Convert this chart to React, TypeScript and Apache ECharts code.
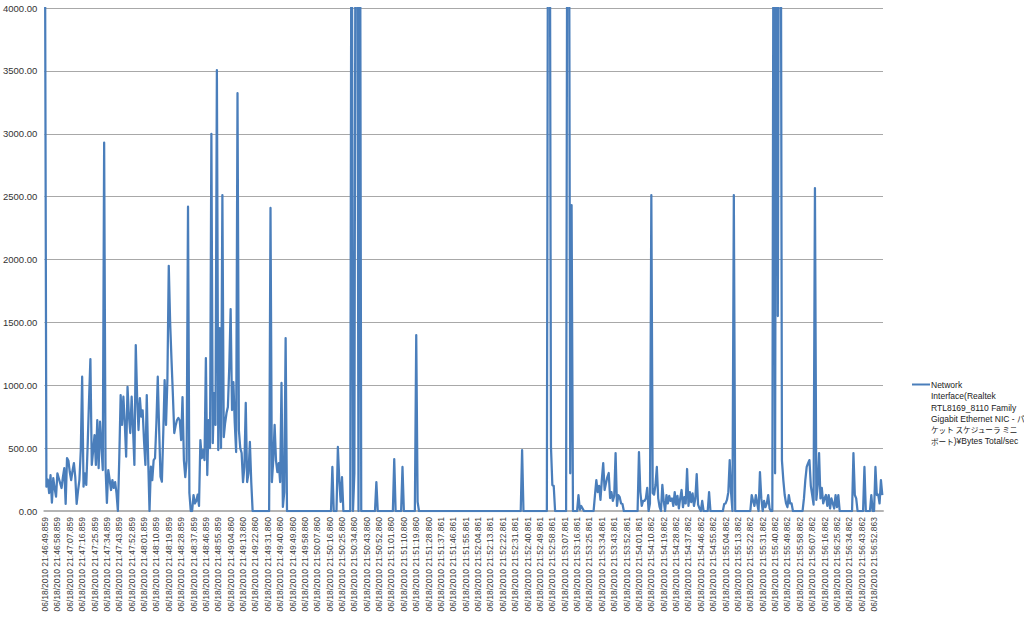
import React, { useEffect, useRef } from "react";
import * as echarts from "echarts";

const SERIES_NAME =
  "Network Interface(Realtek RTL8169_8110 Family Gigabit Ethernet NIC - パケット スケジューラ ミニポート)¥Bytes Total/sec";
// legend text lines as wrapped in the picture; {j|...} marks Japanese runs
const LEGEND_LINES = [
  "Network",
  "Interface(Realtek",
  "RTL8169_8110 Family",
  "Gigabit Ethernet NIC - {j|パ}",
  "{j|ケット スケジューラ ミニ}",
  "{j|ポート})¥Bytes Total/sec",
];

// Bytes Total/sec, one sample per second
const BYTES_TOTAL_SEC = [
  4500, 193, 250, 143, 286, 66, 262, 180, 114, 300,
  260, 222, 183, 270, 341, 56, 421, 400, 310, 246,
  320, 381, 270, 56, 160, 246, 480, 1068, 193, 300,
  207, 520, 880, 1208, 366, 480, 604, 366, 723, 341,
  710, 520, 326, 2930, 350, 64, 326, 250, 167, 246,
  183, 230, 140, 0, 420, 922, 684, 909, 700, 432,
  988, 760, 620, 909, 657, 366, 1320, 900, 644, 898,
  750, 800, 560, 366, 922, 420, 0, 352, 246, 405,
  420, 700, 1068, 644, 273, 233, 620, 1041, 684, 1040,
  1950, 1500, 1200, 922, 620, 680, 723, 740, 720, 564,
  906, 405, 270, 400, 2420, 143, 0, 0, 127, 60,
  80, 130, 40, 564, 420, 485, 405, 1216, 286, 723,
  500, 3000, 540, 938, 684, 3506, 485, 1455, 500, 2512,
  588, 700, 779, 827, 1145, 1606, 803, 1025, 700, 469,
  3323, 644, 500, 461, 230, 350, 859, 230, 300, 549,
  230, 0, 0, 0, 0, 0, 0, 0, 0, 0,
  0, 0, 0, 0, 2410, 230, 405, 684, 400, 310,
  380, 230, 1018, 32, 150, 1375, 0, 0, 0, 0,
  0, 0, 0, 0, 0, 0, 0, 0, 0, 0,
  0, 0, 0, 0, 0, 0, 0, 0, 0, 0,
  0, 0, 0, 0, 0, 0, 0, 0, 0, 350,
  0, 0, 0, 509, 250, 72, 270, 0, 0, 0,
  0, 0, 0, 6000, 0, 300, 6000, 6000, 0, 6000,
  0, 0, 0, 0, 0, 0, 0, 0, 0, 0,
  0, 230, 0, 0, 0, 0, 0, 0, 0, 0,
  0, 0, 0, 0, 413, 0, 0, 0, 0, 0,
  350, 0, 0, 0, 0, 0, 0, 0, 0, 0,
  1399, 72, 0, 0, 0, 0, 0, 0, 0, 0,
  0, 0, 0, 0, 0, 0, 0, 0, 0, 0,
  0, 0, 0, 0, 0, 0, 0, 0, 0, 0,
  0, 0, 0, 0, 0, 0, 0, 0, 0, 0,
  0, 0, 0, 0, 0, 0, 0, 0, 0, 0,
  0, 0, 0, 0, 0, 0, 0, 0, 0, 0,
  0, 0, 0, 0, 0, 0, 0, 0, 0, 0,
  0, 0, 0, 0, 0, 0, 0, 485, 0, 0,
  0, 0, 0, 0, 0, 0, 0, 0, 0, 0,
  0, 0, 0, 0, 0, 0, 6000, 6000, 509, 207,
  199, 0, 0, 0, 0, 0, 0, 0, 0, 0,
  6000, 6000, 300, 2432, 0, 0, 0, 0, 127, 10,
  40, 20, 0, 0, 0, 0, 0, 0, 0, 0,
  127, 246, 151, 200, 88, 250, 381, 167, 220, 270,
  302, 103, 150, 80, 120, 461, 40, 127, 110, 60,
  56, 0, 0, 0, 0, 0, 0, 0, 0, 0,
  0, 0, 469, 151, 40, 80, 80, 100, 183, 0,
  60, 2512, 143, 130, 207, 350, 100, 32, 0, 207,
  80, 0, 127, 60, 120, 80, 100, 40, 151, 50,
  120, 20, 100, 167, 30, 110, 60, 334, 40, 151,
  70, 140, 40, 100, 294, 50, 20, 0, 80, 0,
  0, 0, 0, 151, 0, 0, 0, 0, 0, 0,
  0, 0, 0, 0, 56, 60, 88, 150, 405, 143,
  0, 2512, 0, 0, 0, 0, 0, 0, 0, 0,
  0, 0, 0, 0, 127, 80, 40, 127, 60, 0,
  310, 100, 0, 80, 30, 60, 127, 20, 0, 0,
  6000, 300, 6000, 1550, 6000, 6000, 400, 246, 127, 60,
  30, 127, 60, 60, 0, 0, 0, 0, 0, 0,
  0, 0, 100, 246, 350, 380, 405, 200, 127, 50,
  2568, 88, 200, 461, 100, 183, 60, 100, 127, 40,
  127, 20, 100, 60, 20, 127, 30, 127, 0, 0,
  0, 0, 0, 0, 0, 0, 0, 0, 461, 127,
  100, 0, 0, 0, 0, 0, 350, 0, 0, 0,
  0, 127, 0, 0, 350, 127, 130, 60, 246, 127,
];

// Category timestamps: 06/18/2010 21:46:49.859, one per second
const DATE_TEXT = "06/18/2010";
const START_HMS = [21, 46, 49];
const MS_BASE = 859;
const MS_STEP_AT = [135, 288, 441, 603]; // first sample index of each new millisecond value

const pad = (n: number, w = 2) => String(n).padStart(w, "0");
const CATEGORIES = BYTES_TOTAL_SEC.map((_, i) => {
  const t = START_HMS[0] * 3600 + START_HMS[1] * 60 + START_HMS[2] + i;
  const h = Math.floor(t / 3600);
  const m = Math.floor((t % 3600) / 60);
  const s = t % 60;
  const ms = MS_BASE + MS_STEP_AT.filter((k) => k <= i).length;
  return `${DATE_TEXT} ${pad(h)}:${pad(m)}:${pad(s)}.${pad(ms, 3)}`;
});

const Y_MIN = 0;
const Y_MAX = 4000;
const Y_STEP = 500;

const FONT = "'Liberation Sans', Arial, 'Noto Sans CJK JP', sans-serif";
const JP_FONT = "'Noto Sans CJK JP', sans-serif";
const LINE_COLOR = "#4A7EBB";

export default function App() {
  const ref = useRef<HTMLDivElement>(null);
  useEffect(() => {
    if (!ref.current) return;
    const chart = echarts.init(ref.current, undefined, { renderer: "svg" });
    chart.setOption({
      animation: false,
      backgroundColor: "#ffffff",
      grid: { left: 44, right: 141, top: 8, bottom: 112, containLabel: false },
      xAxis: {
        type: "category",
        data: CATEGORIES,
        boundaryGap: true,
        axisLine: { show: true, lineStyle: { color: "#b4b4b4", width: 2 } },
        axisTick: { show: false },
        axisLabel: {
          interval: 8,
          rotate: 90,
          margin: 6,
          padding: [5, 0, 0, 0],
          fontSize: 8.5,
          fontFamily: FONT,
          color: "#3c3c3c",
        },
        splitLine: { show: false },
      },
      yAxis: {
        type: "value",
        min: Y_MIN,
        max: Y_MAX,
        interval: Y_STEP,
        axisLine: { show: false },
        axisTick: { show: false },
        axisLabel: {
          margin: 7,
          fontSize: 9.5,
          fontFamily: FONT,
          color: "#333333",
          formatter: (v: number) => v.toFixed(2),
        },
        splitLine: { show: true, lineStyle: { color: "#a8a8a8", width: 1 } },
      },
      series: [
        {
          name: SERIES_NAME,
          type: "line",
          data: BYTES_TOTAL_SEC,
          showSymbol: false,
          clip: true,
          lineStyle: { color: LINE_COLOR, width: 2.25, join: "round" },
          itemStyle: { color: LINE_COLOR },
        },
      ],
      graphic: [
        {
          type: "line",
          shape: { x1: 912, y1: 384.5, x2: 930, y2: 384.5 },
          style: { stroke: LINE_COLOR, lineWidth: 2 },
        },
        {
          type: "text",
          x: 931,
          y: 379.5,
          style: {
            text: LEGEND_LINES.join("\n"),
            fontSize: 8.5,
            fontFamily: FONT,
            lineHeight: 11.2,
            fill: "#222222",
            verticalAlign: "top",
            rich: {
              j: {
                fontSize: 7.6,
                fontFamily: JP_FONT,
                lineHeight: 11.2,
                fill: "#222222",
              },
            },
          },
        },
      ],
    });
    return () => chart.dispose();
  }, []);
  return (
    <div
      ref={ref}
      style={{ position: "absolute", left: 0, top: 0, width: 1024, height: 623 }}
    />
  );
}
